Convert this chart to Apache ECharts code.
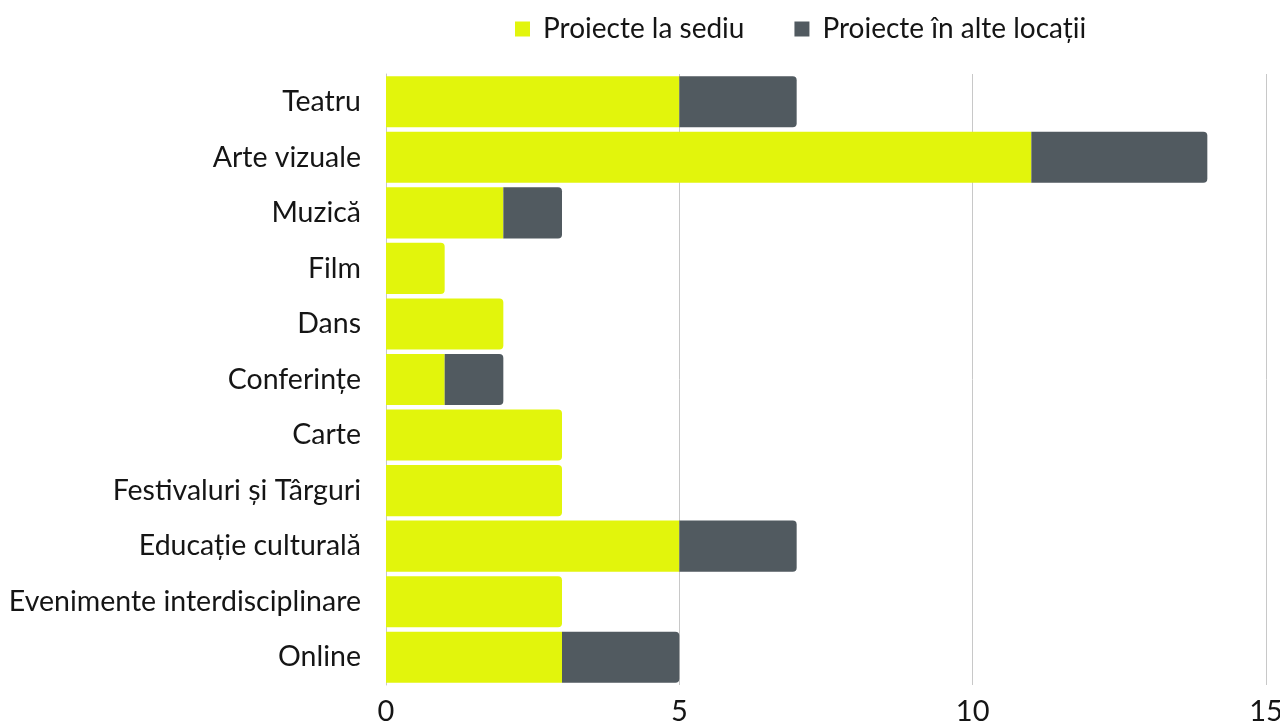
<!DOCTYPE html>
<html>
<head>
<meta charset="utf-8">
<script src="https://cdn.jsdelivr.net/npm/echarts@6/dist/echarts.min.js"></script>
<style>
  html, body { margin: 0; padding: 0; background: #fff; }
  #chart { width: 1280px; height: 728px; }
</style>
</head>
<body>
<div id="chart"></div>
<script>
// Categories, top to bottom
const categories = [
  'Teatru', 'Arte vizuale', 'Muzică', 'Film', 'Dans', 'Conferințe',
  'Carte', 'Festivaluri și Târguri', 'Educație culturală',
  'Evenimente interdisciplinare', 'Online'
];
const seriesNames = ['Proiecte la sediu', 'Proiecte în alte locații'];
const atHome = [5, 11, 2, 1, 2, 1, 3, 3, 5, 3, 3];
const elsewhere = [2, 3, 1, 0, 0, 1, 0, 0, 2, 0, 2];
const xTicks = [0, 5, 10, 15];

const FONT = 'Lato, "Open Sans", sans-serif';
const TEXT = '#151515';
const R = 4;

// Round the right end of whichever segment closes each bar
const homeData = atHome.map((v, i) => ({
  value: v,
  itemStyle: { borderRadius: elsewhere[i] === 0 ? [0, R, R, 0] : 0 }
}));
const awayData = elsewhere.map(v => ({
  value: v,
  itemStyle: { borderRadius: [0, R, R, 0] }
}));

const chart = echarts.init(document.getElementById('chart'), null, { renderer: 'canvas' });
chart.setOption({
  animation: false,
  grid: {
    left: 386, right: 14, top: 74, bottom: 43,
    containLabel: false,
    outerBoundsMode: 'none'
  },
  legend: {
    top: 10,
    left: 510,
    itemWidth: 15,
    itemHeight: 15,
    itemGap: 50,
    icon: 'rect',
    textStyle: { fontFamily: FONT, fontSize: 28, color: TEXT, padding: [0, 0, 0, 8] },
    data: seriesNames
  },
  xAxis: {
    type: 'value',
    min: xTicks[0],
    max: xTicks[xTicks.length - 1],
    interval: 5,
    axisLine: { show: false },
    axisTick: { show: false },
    splitLine: { show: true, lineStyle: { color: '#c8c8c8', width: 1 } },
    axisLabel: { fontFamily: FONT, fontSize: 29, color: TEXT, margin: 12 }
  },
  yAxis: {
    type: 'category',
    data: categories,
    inverse: true,
    axisLine: { show: true, lineStyle: { color: '#c8c8c8', width: 1 } },
    axisTick: { show: false },
    axisLabel: { fontFamily: FONT, fontSize: 28.5, color: TEXT, margin: 25 }
  },
  series: [
    {
      name: seriesNames[0],
      type: 'bar',
      stack: 'total',
      barCategoryGap: '8%',
      itemStyle: { color: '#e2f50c' },
      data: homeData
    },
    {
      name: seriesNames[1],
      type: 'bar',
      stack: 'total',
      barCategoryGap: '8%',
      itemStyle: { color: '#515a60' },
      data: awayData
    }
  ]
});
</script>
</body>
</html>
